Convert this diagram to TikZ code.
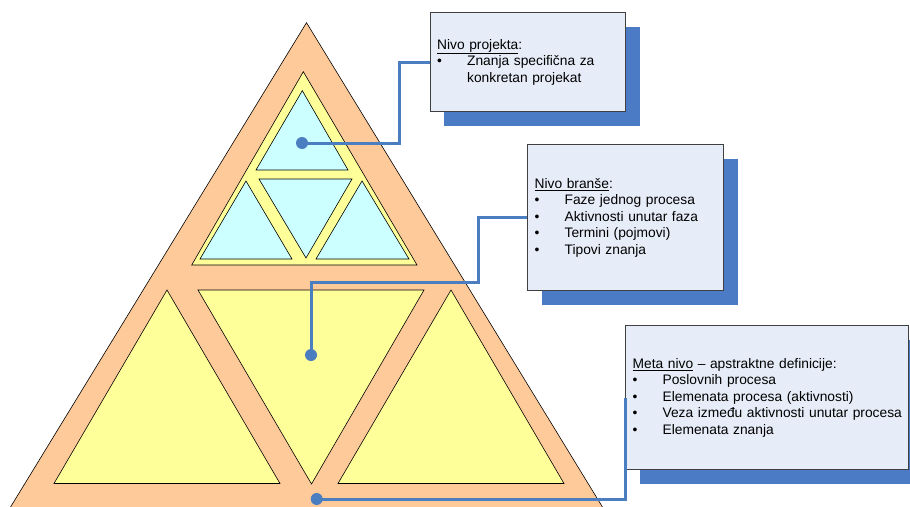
\documentclass[tikz,border=0pt]{standalone}
\usepackage{fontspec}
\setmainfont{Liberation Sans}
\usetikzlibrary{shadows}

\definecolor{peach}{RGB}{255,202,153}
\definecolor{paleyellow}{RGB}{255,255,153}
\definecolor{palecyan}{RGB}{204,255,255}
\definecolor{boxfill}{RGB}{231,237,248}
\definecolor{boxline}{RGB}{64,64,64}
\definecolor{shadowblue}{RGB}{74,123,196}
\definecolor{linkblue}{RGB}{74,126,193}

\tikzset{
  tri/.style={draw=black, line width=0.6pt},
  infobox/.style={draw=boxline, line width=1.2pt, fill=boxfill, anchor=north west,
    inner xsep=7pt, align=left, font=\fontsize{13.8}{16.5}\selectfont,
    drop shadow={shadow xshift=14pt, shadow yshift=-14pt, fill=shadowblue, opacity=1}},
  dot/.style={circle, fill=linkblue, inner sep=0pt, minimum size=12pt},
  link/.style={draw=linkblue, line width=3pt}
}
\newcommand\itm[1]{\mbox{\makebox[30pt][l]{\textbullet}#1}}

\begin{document}
\begin{tikzpicture} [x=1pt, y=-1pt]
		\clip (0,0) rectangle (910,506);
		\filldraw [tri, fill=peach] (306.5,22.7) -- (7.5,512) -- (605.5,512) -- cycle;
		\filldraw [tri, fill=paleyellow] (303.3,71.7) -- (191.7,265) -- (417,265) -- cycle;
		\filldraw [tri, fill=palecyan] (302.3,90.7) -- (256,170) -- (348,170) -- cycle;
		\filldraw [tri, fill=palecyan] (246,181) -- (200,259) -- (292,259) -- cycle;
		\filldraw [tri, fill=palecyan] (259,179) -- (352,179) -- (306,258) -- cycle;
		\filldraw [tri, fill=palecyan] (362,181) -- (316,259) -- (409,259) -- cycle;
		\filldraw [tri, fill=paleyellow] (167,290) -- (54,483.5) -- (280,483.5) -- cycle;
		\filldraw [tri, fill=paleyellow] (198,290) -- (424,290) -- (311.5,484) -- cycle;
		\filldraw [tri, fill=paleyellow] (451,290) -- (338,483.5) -- (564,483.5) -- cycle;

		\node (proj) [infobox, text width=181.5pt, minimum height=99pt] at (429.5,12)
			{\underline{Nivo projekta}:\\
			\itm{Znanja specifična za}\\
			\hspace*{30pt}konkretan projekat};
		\node (branch) [infobox, text width=182pt, minimum height=146pt] at (527,144)
			{\underline{Nivo branše}:\\
			\itm{Faze jednog procesa}\\
			\itm{Aktivnosti unutar faza}\\
			\itm{Termini (pojmovi)}\\
			\itm{Tipovi znanja}};
		\node (meta) [infobox, text width=269pt, minimum height=144pt] at (625,325)
			{\underline{Meta nivo} -- apstraktne definicije:\\
			\itm{Poslovnih procesa}\\
			\itm{Elemenata procesa (aktivnosti)}\\
			\itm{Veza između aktivnosti unutar procesa}\\
			\itm{Elemenata znanja}};

		\node (dotproj) [dot] at (302,143) {};
		\node (dotbranch) [dot] at (311,355) {};
		\node (dotmeta) [dot] at (316.7,499) {};
		\coordinate (bendproj) at (399,143);
		\coordinate (bendbranch) at (478,282);

		\path [link]
		(dotproj.center) -- (bendproj) |- (proj.west)
		(dotbranch.center) |- (bendbranch) |- (branch.west)
		(dotmeta.center) -| (meta.west)
		;
	\end{tikzpicture}
\end{document}
